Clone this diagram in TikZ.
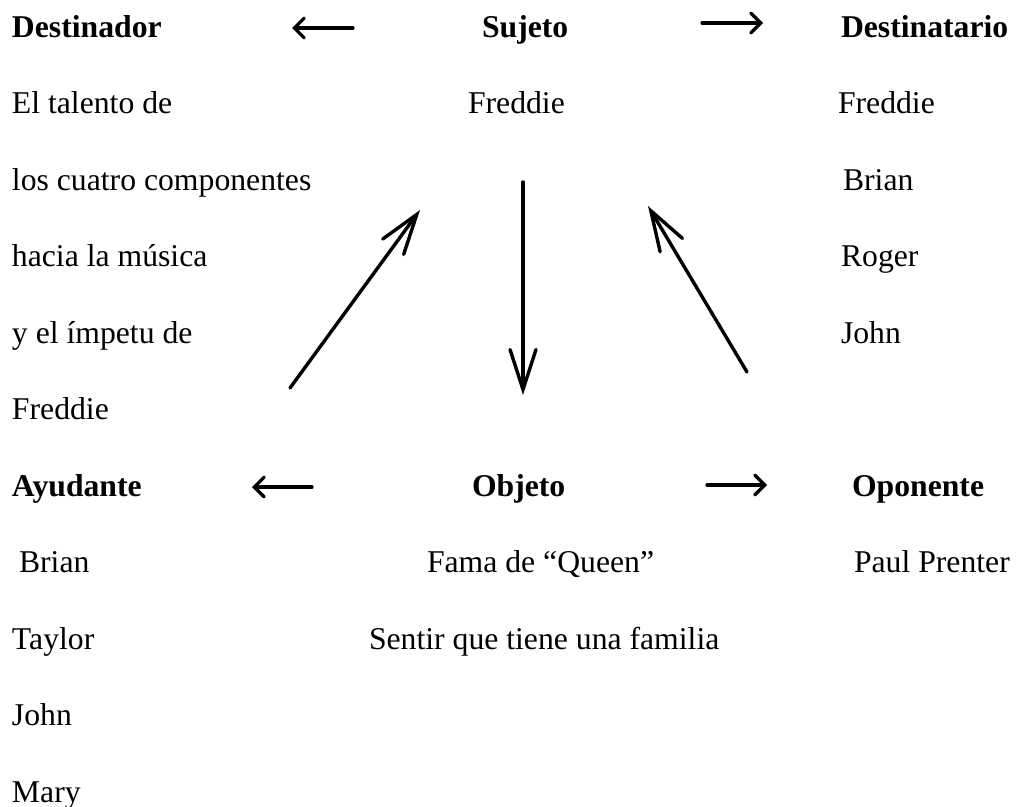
\documentclass[tikz,border=0pt]{standalone}
\usepackage{fontspec}
\setmainfont{Liberation Serif}
\usetikzlibrary{arrows.meta}
\begin{document}
\begin{tikzpicture}[x=1pt,y=-1pt,
  txt/.style={anchor=base west,inner sep=0pt,outer sep=0pt,font=\fontsize{31.7}{38}\selectfont},
  hdr/.style={txt,font=\fontsize{31.7}{38}\selectfont\bfseries},
  harrow/.style={line width=3.2pt,line cap=round,-{Straight Barb[length=10pt,width=20pt,line cap=round]}},
  darrow/.style={line width=3.4pt,line cap=round,-{Straight Barb[length=40pt,width=26pt,line cap=round]}}]
\useasboundingbox (0,0) rectangle (1016,806);
% left column
\node[hdr] (destinador) at (12,37) {Destinador};
\node[txt] (l1) at (12,113.5) {El talento de};
\node[txt] (l2) at (12,190) {los cuatro componentes};
\node[txt] (l3) at (12,266.5) {hacia la música};
\node[txt] (l4) at (12,343) {y el ímpetu de};
\node[txt] (l5) at (12,419.5) {Freddie};
\node[hdr] (ayudante) at (12,496) {Ayudante};
\node[txt] (a1) at (19,572.5) {Brian};
\node[txt] (a2) at (12,649) {Taylor};
\node[txt] (a3) at (12,725.5) {John};
\node[txt] (a4) at (12,802) {Mary};
% centre column
\node[hdr] (sujeto) at (482,37) {Sujeto};
\node[txt] (s1) at (468,113.5) {Freddie};
\node[hdr] (objeto) at (472,496) {Objeto};
\node[txt] (o1) at (427,572.5) {Fama de “Queen”};
\node[txt] (o2) at (369,649) {Sentir que tiene una familia};
% right column
\node[hdr] (destinatario) at (841,37) {Destinatario};
\node[txt] (d1) at (838,113.5) {Freddie};
\node[txt] (d2) at (843,190) {Brian};
\node[txt] (d3) at (841,266.5) {Roger};
\node[txt] (d4) at (841,343) {John};
\node[hdr] (oponente) at (852,496) {Oponente};
\node[txt] (p1) at (854,572.5) {Paul Prenter};
% arrow ends
\coordinate (tla) at (353,28);  \coordinate (tlb) at (292,28);
\coordinate (tra) at (702,23);  \coordinate (trb) at (763,23);
\coordinate (bla) at (312,487); \coordinate (blb) at (252,487);
\coordinate (bra) at (707,485); \coordinate (brb) at (767,485);
\coordinate (ldt) at (290,388); \coordinate (ldh) at (420,210);
\coordinate (mdt) at (523,182); \coordinate (mdh) at (523,395);
\coordinate (rdt) at (747,372); \coordinate (rdh) at (648,206);
\draw[harrow] (tla) -- (tlb);
\draw[harrow] (tra) -- (trb);
\draw[harrow] (bla) -- (blb);
\draw[harrow] (bra) -- (brb);
\draw[darrow] (ldt) -- (ldh);
\draw[darrow] (mdt) -- (mdh);
\draw[darrow] (rdt) -- (rdh);
\end{tikzpicture}
\end{document}
